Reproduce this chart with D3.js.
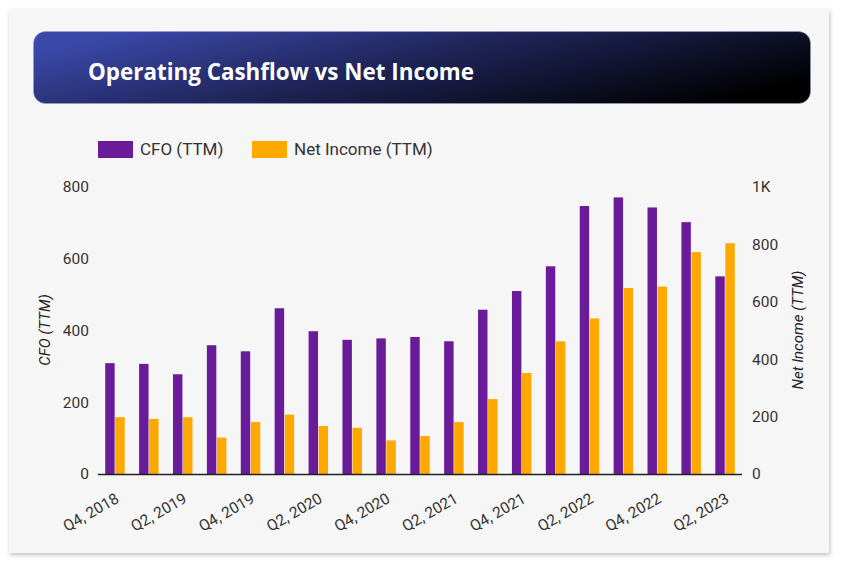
<!DOCTYPE html>
<html>
<head>
<meta charset="utf-8">
<script src="https://cdn.jsdelivr.net/npm/d3@7"></script>
<style>
  html, body { margin: 0; padding: 0; background: #ffffff; }
  svg { display: block; }
</style>
</head>
<body>
<svg id="chart" width="847" height="561"></svg>
<script>
const categories = ["Q4, 2018","Q1, 2019","Q2, 2019","Q3, 2019","Q4, 2019","Q1, 2020","Q2, 2020","Q3, 2020","Q4, 2020","Q1, 2021","Q2, 2021","Q3, 2021","Q4, 2021","Q1, 2022","Q2, 2022","Q3, 2022","Q4, 2022","Q1, 2023","Q2, 2023"];
const cfoValues = [309, 307, 278, 359, 342, 462, 398, 374, 378, 382, 370, 458, 510, 579, 747, 771, 743, 702, 551];
const netIncomeValues = [198, 192, 198, 127, 181, 207, 167, 161, 117, 132, 181, 261, 352, 462, 542, 648, 653, 773, 804];
const leftTicks = [0, 200, 400, 600, 800];
const rightTicks = [0, 200, 400, 600, 800, 1000];
const seriesNames = ["CFO (TTM)", "Net Income (TTM)"];
const seriesColors = ["#6a1b9a", "#ffa800"];
const title = "Operating Cashflow vs Net Income";

const svg = d3.select("#chart");
const defs = svg.append("defs");

// card shadow
const f = defs.append("filter").attr("id", "shadow").attr("x", "-5%").attr("y", "-5%").attr("width", "110%").attr("height", "110%");
f.append("feDropShadow").attr("dx", 1).attr("dy", 2).attr("stdDeviation", 2).attr("flood-color", "#000").attr("flood-opacity", 0.25);

svg.append("rect").attr("x", 9).attr("y", 9).attr("width", 820).attr("height", 544)
  .attr("fill", "#f6f6f6").attr("filter", "url(#shadow)");

// title banner
const grad = defs.append("linearGradient").attr("id", "bannerGrad")
  .attr("x1", "0%").attr("y1", "30%").attr("x2", "100%").attr("y2", "70%");
grad.append("stop").attr("offset", "0%").attr("stop-color", "#3a48a8");
grad.append("stop").attr("offset", "45%").attr("stop-color", "#1f2458");
grad.append("stop").attr("offset", "100%").attr("stop-color", "#000000");

svg.append("rect").attr("x", 33.5).attr("y", 31.5).attr("width", 777).attr("height", 72)
  .attr("rx", 12).attr("ry", 12).attr("fill", "url(#bannerGrad)")
  .attr("stroke", "#9aa0c8").attr("stroke-opacity", 0.5).attr("stroke-width", 1);

svg.append("text").attr("x", 88).attr("y", 80)
  .attr("fill", "#ffffff").attr("font-family", "'Open Sans', Lato, sans-serif")
  .attr("font-weight", 700).attr("font-size", 22.4).text(title);

// plot geometry
const x0 = 98, x1 = 742, yTop = 187, yBottom = 474;

const x = d3.scaleBand().domain(categories).range([x0, x1]).paddingInner(0.39).paddingOuter(0.195);
const xSub = d3.scaleBand().domain([0, 1]).range([0, x.bandwidth()]).padding(0.06);
const yLeft = d3.scaleLinear().domain([0, 800]).range([yBottom, yTop]);
const yRight = d3.scaleLinear().domain([0, 1000]).range([yBottom, yTop]);

const fontFam = "Roboto, 'Noto Sans', sans-serif";

// bars
const g = svg.append("g");
const groups = g.selectAll("g.grp").data(categories).join("g")
  .attr("transform", d => `translate(${x(d)},0)`);
groups.append("rect")
  .attr("x", xSub(0)).attr("width", xSub.bandwidth())
  .attr("y", (d, i) => yLeft(cfoValues[i]))
  .attr("height", (d, i) => yBottom - yLeft(cfoValues[i]))
  .attr("fill", seriesColors[0]);
groups.append("rect")
  .attr("x", xSub(1)).attr("width", xSub.bandwidth())
  .attr("y", (d, i) => yRight(netIncomeValues[i]))
  .attr("height", (d, i) => yBottom - yRight(netIncomeValues[i]))
  .attr("fill", seriesColors[1]);

// baseline
svg.append("line").attr("x1", x0).attr("x2", x1).attr("y1", yBottom + 0.5).attr("y2", yBottom + 0.5)
  .attr("stroke", "#222").attr("stroke-width", 1.5);

// left axis
const axL = svg.append("g").attr("transform", `translate(${x0 - 9},0)`)
  .call(d3.axisLeft(yLeft).tickValues(leftTicks).tickSize(0).tickPadding(0));
axL.select(".domain").remove();
axL.selectAll("text").attr("font-family", fontFam).attr("font-size", 15.5).attr("fill", "#333");

// right axis
const axR = svg.append("g").attr("transform", `translate(${x1 + 10},0)`)
  .call(d3.axisRight(yRight).tickValues(rightTicks).tickSize(0).tickPadding(0)
    .tickFormat(d => d >= 1000 ? (d / 1000) + "K" : d));
axR.select(".domain").remove();
axR.selectAll("text").attr("font-family", fontFam).attr("font-size", 15.5).attr("fill", "#333");

// x axis labels
const xLabels = categories.filter((d, i) => i % 2 === 0);
const axX = svg.append("g").attr("transform", `translate(0,${yBottom})`)
  .call(d3.axisBottom(x).tickValues(xLabels).tickSize(0).tickPadding(0));
axX.select(".domain").remove();
axX.selectAll("text")
  .attr("font-family", fontFam).attr("font-size", 15.5).attr("fill", "#333")
  .attr("text-anchor", "end").attr("dy", null).attr("y", 0)
  .attr("transform", "translate(3,24) rotate(-30)")
  .attr("dominant-baseline", "middle");

// axis titles
svg.append("text").attr("transform", `translate(50,330) rotate(-90)`)
  .attr("text-anchor", "middle").attr("font-family", fontFam).attr("font-style", "italic")
  .attr("font-size", 15).attr("fill", "#222").text(seriesNames[0]);
svg.append("text").attr("transform", `translate(803,330) rotate(-90)`)
  .attr("text-anchor", "middle").attr("font-family", fontFam).attr("font-style", "italic")
  .attr("font-size", 15).attr("fill", "#222").text(seriesNames[1]);

// legend
const legendX = [98, 252];
const lg = svg.append("g");
seriesNames.forEach((name, i) => {
  lg.append("rect").attr("x", legendX[i]).attr("y", 141).attr("width", 35).attr("height", 17)
    .attr("fill", seriesColors[i]);
  lg.append("text").attr("x", legendX[i] + 42).attr("y", 151).attr("dominant-baseline", "middle")
    .attr("font-family", fontFam).attr("font-size", 17).attr("fill", "#333").text(name);
});
</script>
</body>
</html>
